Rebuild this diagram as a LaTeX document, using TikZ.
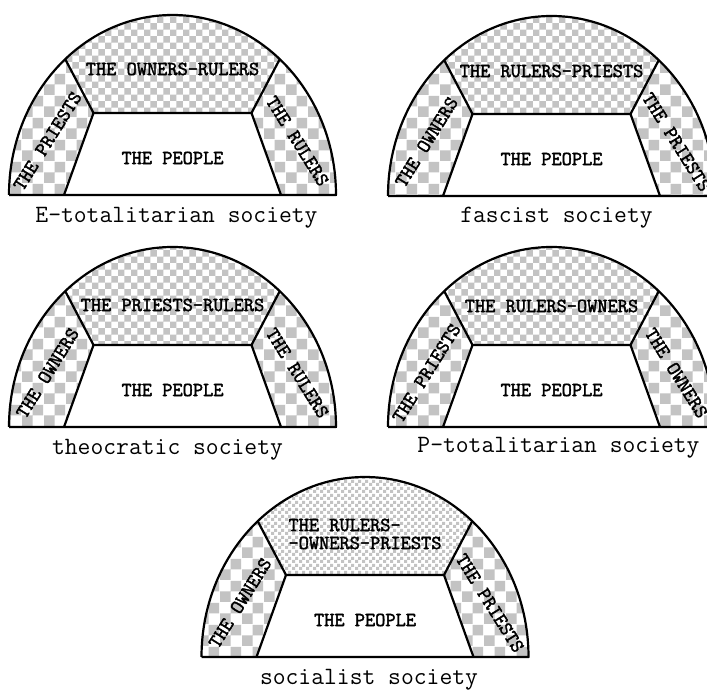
\documentclass[tikz,border=0pt]{standalone}
\usepackage{fontspec}
\newfontfamily\lblfont[FakeBold=2.2]{Latin Modern Mono}
\usetikzlibrary{patterns}
\definecolor{chk}{RGB}{195,195,195}
\pgfdeclarepatternformonly{chkbig}{\pgfpointorigin}{\pgfpoint{22pt}{22pt}}{\pgfpoint{22pt}{22pt}}{%
  \pgfpathrectangle{\pgfpointorigin}{\pgfpoint{11pt}{11pt}}%
  \pgfpathrectangle{\pgfpoint{11pt}{11pt}}{\pgfpoint{11pt}{11pt}}%
  \pgfusepath{fill}}
\pgfdeclarepatternformonly{chkmid}{\pgfpointorigin}{\pgfpoint{13.4pt}{13.4pt}}{\pgfpoint{13.4pt}{13.4pt}}{%
  \pgfpathrectangle{\pgfpointorigin}{\pgfpoint{6.7pt}{6.7pt}}%
  \pgfpathrectangle{\pgfpoint{6.7pt}{6.7pt}}{\pgfpoint{6.7pt}{6.7pt}}%
  \pgfusepath{fill}}
\pgfdeclarepatternformonly{chkfine}{\pgfpointorigin}{\pgfpoint{6.6pt}{6.6pt}}{\pgfpoint{6.6pt}{6.6pt}}{%
  \pgfpathrectangle{\pgfpointorigin}{\pgfpoint{3.3pt}{3.3pt}}%
  \pgfpathrectangle{\pgfpoint{3.3pt}{3.3pt}}{\pgfpoint{3.3pt}{3.3pt}}%
  \pgfusepath{fill}}
\tikzset{
  band/.style={preaction={fill=white}, pattern=chkbig, pattern color=chk},
  crown/.style={preaction={fill=white}, pattern=#1, pattern color=chk},
  edge/.style={line width=2.2pt, line join=round},
  lbl/.style={font=\fontsize{19.8}{18}\selectfont\lblfont, inner sep=0pt, align=left},
  captxt/.style={font=\fontsize{24.9}{26}\selectfont\ttfamily, inner sep=0pt},
}
% #1 prefix, #2 cx, #3 base y (from top), #4 crown pattern, #5 top text, #6 top text height, #7 left text, #8 right text
\newcommand\drawsoc[8]{%
  \begin{scope}[shift={(#2,689-#3)}]
    \coordinate (#1-bl) at (-163.5,0);
    \coordinate (#1-br) at (163.5,0);
    \coordinate (#1-ol) at ({163.5*cos(131)},{180*sin(131)});
    \coordinate (#1-or) at ({163.5*cos(49)},{180*sin(49)});
    \coordinate (#1-ibl) at (-108.5,0);
    \coordinate (#1-ibr) at (108.5,0);
    \coordinate (#1-itl) at (-79,82);
    \coordinate (#1-itr) at (79,82);
    \fill[band] (#1-bl) arc[start angle=180,end angle=131,x radius=163.5,y radius=180] -- (#1-itl) -- (#1-ibl) -- cycle;
    \fill[band] (#1-or) arc[start angle=49,end angle=0,x radius=163.5,y radius=180] -- (#1-ibr) -- (#1-itr) -- cycle;
    \fill[crown=#4] (#1-ol) arc[start angle=131,end angle=49,x radius=163.5,y radius=180] -- (#1-itr) -- (#1-itl) -- cycle;
    \fill[white] (#1-ibl) -- (#1-itl) -- (#1-itr) -- (#1-ibr) -- cycle;
    \draw[edge] (#1-bl) arc[start angle=180,end angle=0,x radius=163.5,y radius=180] -- (#1-bl);
    \draw[edge] (#1-ibl) -- (#1-itl) -- (#1-itr) -- (#1-ibr);
    \draw[edge] (#1-ol) -- (#1-itl);
    \draw[edge] (#1-or) -- (#1-itr);
    \node[lbl] (#1-top) at (0,#6) {#5};
    \node[lbl] (#1-ppl) at (0,37) {THE PEOPLE};
    \node[lbl, rotate=58] (#1-left) at (-125,54) {#7};
    \node[lbl, rotate=-58] (#1-right) at (125,54) {#8};
  \end{scope}}
\begin{document}
\begin{tikzpicture}[x=1pt,y=1pt]
  \useasboundingbox (0,0) rectangle (707,689);
  \clip (0,0) rectangle (707,689);
  \fill[white] (0,0) rectangle (707,689);
  \drawsoc{e}{172.5}{195}{chkmid}{THE OWNERS-RULERS}{126}{THE PRIESTS}{THE RULERS}
  \drawsoc{f}{551.5}{196}{chkmid}{THE RULERS-PRIESTS}{125}{THE OWNERS}{THE PRIESTS}
  \drawsoc{t}{172.5}{427}{chkmid}{THE PRIESTS-RULERS}{122}{THE OWNERS}{THE RULERS}
  \drawsoc{p}{551.5}{427}{chkmid}{THE RULERS-OWNERS}{121}{THE PRIESTS}{THE OWNERS}
  \drawsoc{s}{365}{657}{chkfine}{THE RULERS-\\-OWNERS-PRIESTS}{123}{THE OWNERS}{THE PRIESTS}
  \node[captxt] (ecap) at (176.5,689-218) {E-totalitarian society};
  \node[captxt] (fcap) at (556.5,689-218) {fascist society};
  \node[captxt] (tcap) at (167.5,689-450) {theocratic society};
  \node[captxt] (pcap) at (558.5,689-448) {P-totalitarian society};
  \node[captxt] (scap) at (369,689-680) {socialist society};
\end{tikzpicture}
\end{document}
